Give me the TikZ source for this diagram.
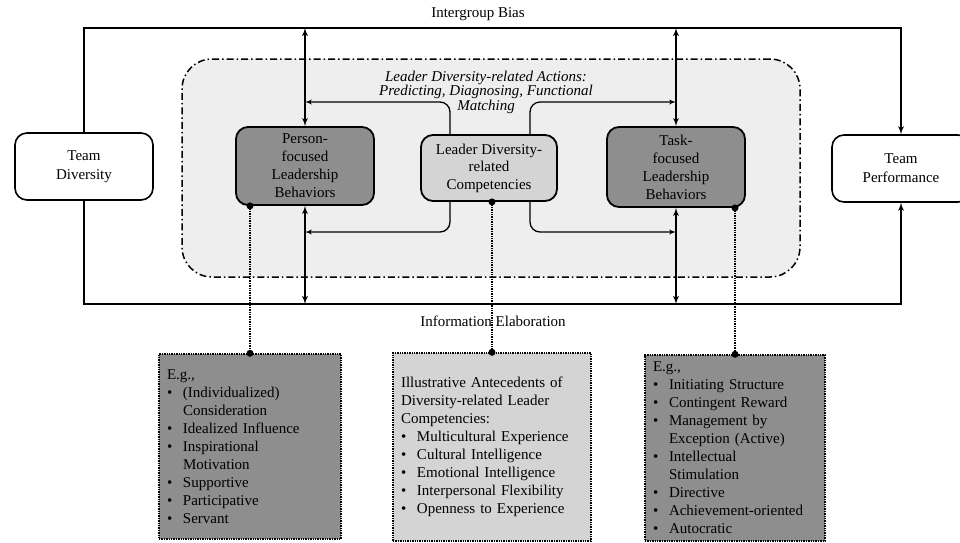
\documentclass[tikz,border=0pt]{standalone}
\usepackage{fontspec}
\setmainfont{Liberation Serif}
\usetikzlibrary{arrows}
\definecolor{regiongray}{RGB}{238,238,238}
\definecolor{darkbox}{RGB}{142,142,142}
\definecolor{lightbox}{RGB}{212,212,212}
\newcommand{\itm}[1]{\makebox[16pt][l]{\textbullet}#1}
\newcommand{\cnt}[1]{\hspace*{16pt}#1}
\hyphenpenalty=10000
\exhyphenpenalty=10000

\begin{document}
\begin{tikzpicture}[x=1pt,y=-1pt]
\tikzset{team/.style = {shape=rectangle,draw,rounded corners=12pt,line width=1.6pt,fill=white,minimum width=138pt,minimum height=67pt,align=center,font=\fontsize{15}{19}\selectfont}}
\tikzset{lead/.style = {shape=rectangle,draw,rounded corners=12pt,line width=1.8pt,minimum width=138pt,align=center,font=\fontsize{15}{18}\selectfont}}
\tikzset{example/.style = {shape=rectangle,draw,densely dotted,line width=1.4pt,inner xsep=8pt,align=left,font=\fontsize{15}{18}\selectfont}}
\tikzset{edge/.style = {->,> = latex',line width=1.7pt}}
\tikzset{dedge/.style = {<->,> = latex',line width=1.7pt}}
\tikzset{link/.style = {densely dotted,line width=1.4pt}}

\useasboundingbox (0,0) rectangle (960,542);
\clip (0,0) rectangle (960,542);

% actions region
\node[fill=regiongray,draw,dash pattern=on 7pt off 3pt on 1.5pt off 3pt,line width=1.5pt,rounded corners=30pt,minimum width=618pt,minimum height=218pt] (act) at (491,168) {};
\node[font=\fontsize{15}{14.5}\selectfont\itshape,align=center] (acttxt) at (486,92) {Leader Diversity-related Actions:\\Predicting, Diagnosing, Functional\\Matching};

% boxes
\node[team] (div) at (84,166.5) {Team\\Diversity};
\node[team] (perf) at (901,168.5) {Team\\Performance};
\node[lead,fill=darkbox,minimum height=78pt] (pers) at (305,166) {Person-\\focused\\Leadership\\Behaviors};
\node[lead,fill=lightbox,minimum width=136pt,minimum height=66pt,font=\fontsize{15}{17.5}\selectfont] (comp) at (489,168) {Leader Diversity-\\related\\Competencies};
\node[lead,fill=darkbox,minimum height=80pt] (task) at (676,167) {Task-\\focused\\Leadership\\Behaviors};

\node[font=\fontsize{15}{18}\selectfont] (bias) at (478,14) {Intergroup Bias};
\node[font=\fontsize{15}{18}\selectfont] (elab) at (493,321) {Information\ Elaboration};

% examples
\node[example,fill=darkbox,minimum width=182pt,minimum height=185pt,text width=166pt] (ex1) at (250,446.5) {E.g.,\\
\itm{(Individualized)}\\ \cnt{Consideration}\\ \itm{Idealized Influence}\\ \itm{Inspirational}\\ \cnt{Motivation}\\ \itm{Supportive}\\ \itm{Participative}\\ \itm{Servant}};
\node[example,fill=lightbox,minimum width=198pt,minimum height=188pt,text width=182pt] (ex2) at (492,447) {Illustrative Antecedents of\\ Diversity-related Leader\\ Competencies:\\
\itm{Multicultural Experience}\\ \itm{Cultural Intelligence}\\ \itm{Emotional Intelligence}\\ \itm{Interpersonal Flexibility}\\ \itm{Openness to Experience}};
\node[example,fill=darkbox,minimum width=180pt,minimum height=186pt,text width=164pt] (ex3) at (735,448) {E.g.,\\
\itm{Initiating Structure}\\ \itm{Contingent Reward}\\ \itm{Management by}\\ \cnt{Exception (Active)}\\ \itm{Intellectual}\\ \cnt{Stimulation}\\ \itm{Directive}\\ \itm{Achievement-oriented}\\ \itm{Autocratic}};

\coordinate (topbar) at (0,28);
\coordinate (botbar) at (0,304);
\coordinate (upl) at (450,102);
\coordinate (upr) at (530,102);
\coordinate (lol) at (450,232);
\coordinate (lor) at (530,232);

% outer paths
\draw[edge] (div.north) |- (perf.north |- topbar) -- (perf.north);
\draw[edge] (div.south) |- (perf.south |- botbar) -- (perf.south);
\draw[dedge] (pers.north |- topbar) -- (pers.north);
\draw[dedge] (task.north |- topbar) -- (task.north);
\draw[dedge] (pers.south) -- (pers.south |- botbar);
\draw[dedge] (task.south) -- (task.south |- botbar);

% competencies to behaviors
\draw[edge,line width=1.3pt,rounded corners=10pt] (upl |- comp.north) |- (pers.north |- upl);
\draw[edge,line width=1.3pt,rounded corners=10pt] (upr |- comp.north) |- (task.north |- upr);
\draw[edge,line width=1.3pt,rounded corners=10pt] (lol |- comp.south) |- (pers.south |- lol);
\draw[edge,line width=1.3pt,rounded corners=10pt] (lor |- comp.south) |- (task.south |- lor);

% dotted links
\draw[link] (ex1.north |- pers.south) -- (ex1.north);
\draw[link] (ex2.north |- comp.south) -- (ex2.north);
\draw[link] (ex3.north |- task.south) -- (ex3.north);
\fill (ex1.north |- pers.south) circle (3.5pt) (ex1.north) circle (3.5pt);
\fill (ex2.north |- comp.south) circle (3.5pt) (ex2.north) circle (3.5pt);
\fill (ex3.north |- task.south) circle (3.5pt) (ex3.north) circle (3.5pt);
\end{tikzpicture}
\end{document}
